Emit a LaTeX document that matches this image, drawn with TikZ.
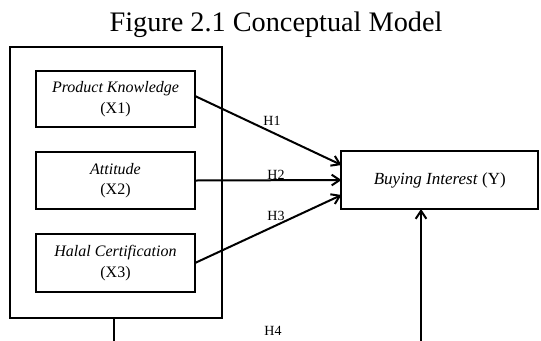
\documentclass[tikz,border=0pt]{standalone}
\usepackage{fontspec}
\setmainfont{Liberation Serif}
\usetikzlibrary{arrows.meta}
\begin{document}
\begin{tikzpicture}[x=0.75pt,y=-0.75pt,
  box/.style={draw,line width=1.5pt,outer sep=0pt,inner sep=0pt,align=center,
    font=\fontsize{12}{15.5}\selectfont},
  conn/.style={line width=1.5pt},
  arr/.style={line width=1.5pt,-{Straight Barb[length=6pt,width=8pt,line width=1.5pt]}},
  hlab/.style={font=\fontsize{10.5}{12}\selectfont,inner sep=0pt}
]
\useasboundingbox (0,0) rectangle (541,340);
\node[font=\fontsize{21.2}{25}\selectfont,anchor=base,inner sep=0pt] (title) at (276,31.5) {Figure 2.1 Conceptual Model};
\node[box,minimum width=159pt,minimum height=203pt] (outer) at (115.5,182.75) {};
\node[box,minimum width=119.25pt,minimum height=42pt] (x1) at (115.5,99) {\textit{Product Knowledge}\\(X1)};
\node[box,minimum width=119.25pt,minimum height=42.75pt] (x2) at (115.5,180.5) {\textit{Attitude}\\(X2)};
\node[box,minimum width=119.25pt,minimum height=43.5pt] (x3) at (115.5,263) {\textit{Halal Certification}\\(X3)};
\node[box,minimum width=147.4pt,minimum height=43.5pt,font=\fontsize{12.75}{15}\selectfont] (y) at (439.75,180) {\textit{Buying Interest} (Y)};
\draw[arr] ([yshift=2.25pt]x1.east) -- ([yshift=11.25pt]y.west);
\draw[arr] (x2.east) -- (y.west);
\draw[arr] ([yshift=0pt]x3.east) -- ([yshift=-11.25pt]y.west);
\node[hlab] (h1) at (272,121) {H1};
\node[hlab] (h2) at (276,175) {H2};
\node[hlab] (h3) at (276,216) {H3};
\node[hlab] (h4) at (273,331) {H4};
\coordinate (bl) at (113.5,341);
\coordinate (br) at (421,341);
\draw[conn] (outer.south -| bl) -- (bl);
\draw[arr] (br) -- (y.south -| br);
\end{tikzpicture}
\end{document}
